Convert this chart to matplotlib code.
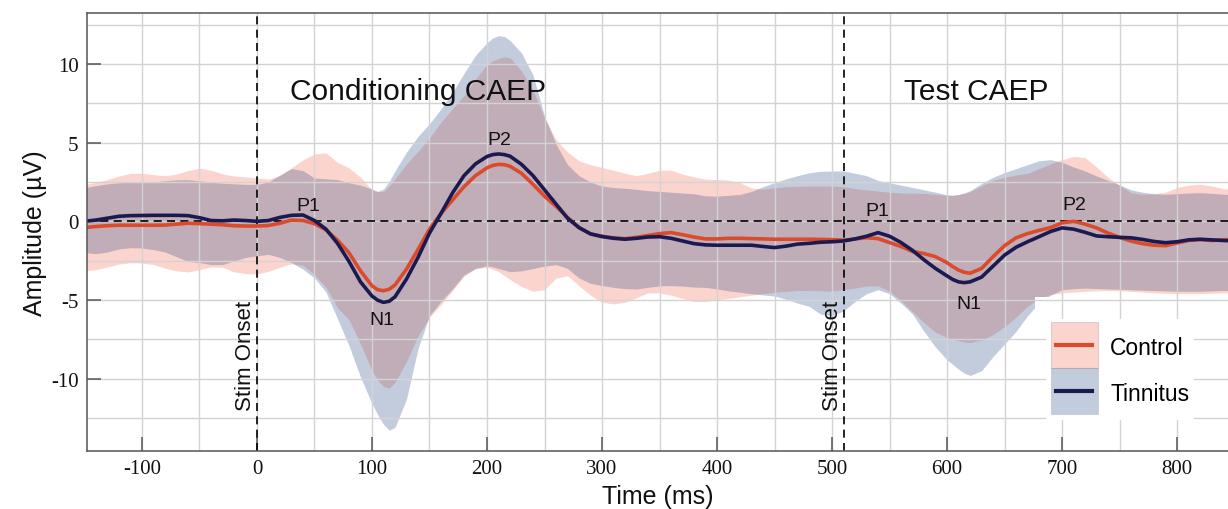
import matplotlib
matplotlib.use("Agg")
import matplotlib.pyplot as plt
from matplotlib.patches import Rectangle
from matplotlib.lines import Line2D
from matplotlib.ticker import MultipleLocator

plt.rcParams['font.family'] = ['Liberation Sans', 'DejaVu Sans']
plt.rcParams['axes.unicode_minus'] = False

# ---------------- data (time in ms, amplitude in microvolts) ----------------
times = [-150, -140, -130, -120, -110, -100, -90, -80, -70, -60,
         -50, -40, -30, -20, -10, 0, 10, 20, 30, 40,
         50, 60, 70, 80, 90, 100, 105, 110, 115, 120, 130, 140,
         150, 160, 170, 180, 190, 200, 205, 210, 215, 220, 230, 240,
         250, 260, 270, 280, 290, 300, 310, 320, 330, 340,
         350, 360, 370, 380, 390, 400, 410, 420, 430, 440,
         450, 460, 470, 480, 490, 500, 510, 520, 530, 540,
         550, 560, 570, 580, 590, 600, 605, 610, 615, 620, 630, 640,
         650, 660, 670, 680, 690, 700, 710, 720, 730, 740,
         750, 760, 770, 780, 790, 800, 810, 820, 830, 840, 850]

control_mean = [-0.40, -0.33, -0.28, -0.25, -0.25, -0.25, -0.25, -0.24, -0.18, -0.12,
                -0.15, -0.18, -0.22, -0.28, -0.30, -0.30, -0.27, -0.12, 0.08, 0.05,
                -0.15, -0.55, -1.20, -2.00, -3.15, -4.10, -4.35, -4.41, -4.32, -4.05, -3.04, -1.80,
                -0.50, 0.50, 1.35, 2.20, 2.90, 3.40, 3.55, 3.62, 3.60, 3.50, 3.05, 2.35,
                1.60, 0.95, 0.25, -0.40, -0.80, -0.95, -1.05, -1.10, -1.02, -0.90,
                -0.78, -0.72, -0.85, -1.00, -1.12, -1.12, -1.08, -1.08, -1.10, -1.12,
                -1.14, -1.14, -1.14, -1.14, -1.15, -1.17, -1.20, -1.12, -1.04, -1.10,
                -1.35, -1.60, -1.92, -2.05, -2.25, -2.63, -2.88, -3.10, -3.24, -3.30, -3.00, -2.25,
                -1.55, -1.05, -0.78, -0.58, -0.40, -0.10, 0.00, -0.18, -0.42, -0.75,
                -1.02, -1.26, -1.42, -1.52, -1.55, -1.38, -1.22, -1.16, -1.22, -1.18, -1.15]

tinnitus_mean = [0.00, 0.08, 0.20, 0.32, 0.36, 0.37, 0.38, 0.38, 0.38, 0.36,
                 0.23, 0.05, 0.03, 0.08, 0.05, 0.00, 0.05, 0.25, 0.38, 0.40,
                 0.05, -0.50, -1.40, -2.55, -3.85, -4.75, -5.02, -5.15, -5.08, -4.80, -3.67, -2.30,
                 -0.75, 0.50, 1.80, 2.90, 3.65, 4.12, 4.24, 4.28, 4.24, 4.14, 3.62, 2.90,
                 2.00, 1.10, 0.20, -0.40, -0.80, -0.97, -1.08, -1.14, -1.08, -1.00,
                 -0.98, -1.08, -1.25, -1.42, -1.50, -1.52, -1.52, -1.52, -1.52, -1.60,
                 -1.67, -1.58, -1.45, -1.40, -1.33, -1.30, -1.25, -1.12, -0.95, -0.72,
                 -0.95, -1.35, -1.85, -2.45, -3.00, -3.47, -3.70, -3.85, -3.90, -3.85, -3.55, -2.85,
                 -2.15, -1.65, -1.30, -0.98, -0.65, -0.42, -0.50, -0.70, -0.93, -0.98,
                 -1.02, -1.05, -1.15, -1.28, -1.36, -1.30, -1.18, -1.14, -1.18, -1.22, -1.25]

control_upper = [2.34, 2.48, 2.65, 2.88, 3.05, 3.05, 2.97, 2.90, 3.00, 3.22,
                 3.38, 3.25, 3.02, 2.88, 2.82, 2.76, 2.68, 2.90, 3.40, 3.90,
                 4.28, 4.35, 3.75, 3.40, 2.80, 2.00, 1.88, 1.90, 2.25, 2.70, 3.65, 4.45,
                 5.30, 6.30, 7.15, 8.00, 9.05, 9.95, 10.20, 10.35, 10.45, 10.40, 9.55, 8.35,
                 6.55, 5.20, 4.40, 3.85, 3.60, 3.42, 3.25, 3.05, 2.90, 3.05,
                 3.25, 3.25, 3.00, 2.82, 2.68, 2.66, 2.62, 2.45, 2.12, 2.05,
                 2.13, 2.20, 2.22, 2.24, 2.24, 2.24, 2.20, 2.08, 2.00, 1.92,
                 1.85, 1.80, 1.79, 1.78, 1.72, 1.65, 1.65, 1.70, 1.78, 1.88, 2.25, 2.60,
                 2.80, 2.95, 3.05, 3.35, 3.65, 3.92, 4.12, 4.05, 3.45, 2.80,
                 2.30, 1.82, 1.72, 1.75, 1.85, 2.15, 2.30, 2.35, 2.25, 2.08, 2.03]

control_lower = [-3.14, -3.08, -2.90, -2.72, -2.64, -2.65, -2.75, -2.98, -3.15, -3.22,
                 -3.08, -2.90, -2.92, -3.22, -3.32, -3.35, -3.18, -2.92, -2.70, -2.80,
                 -3.40, -4.20, -5.50, -6.25, -7.80, -9.50, -10.10, -10.50, -10.60, -10.25, -8.90, -7.30,
                 -6.10, -5.30, -4.40, -3.50, -3.00, -2.93, -3.05, -3.20, -3.45, -3.70, -4.15, -4.45,
                 -4.35, -3.62, -3.46, -4.10, -4.70, -5.15, -5.25, -5.15, -4.85, -4.55,
                 -4.55, -4.70, -4.90, -5.10, -5.10, -4.98, -4.90, -4.80, -4.70, -4.60,
                 -4.51, -4.45, -4.40, -4.40, -4.42, -4.43, -4.35, -4.25, -4.11, -4.11,
                 -4.45, -5.05, -5.75, -6.45, -7.05, -7.39, -7.50, -7.60, -7.68, -7.71, -7.55, -7.20,
                 -6.70, -6.10, -5.40, -4.90, -4.65, -4.55, -4.50, -4.45, -4.42, -4.40,
                 -4.42, -4.45, -4.50, -4.55, -4.58, -4.60, -4.60, -4.60, -4.57, -4.55, -4.55]

tinnitus_upper = [2.13, 2.27, 2.38, 2.45, 2.47, 2.48, 2.50, 2.58, 2.64, 2.65,
                  2.58, 2.48, 2.42, 2.38, 2.35, 2.34, 2.50, 2.95, 3.35, 3.22,
                  2.75, 2.70, 2.65, 2.45, 2.30, 2.05, 1.90, 2.05, 2.55, 3.20, 4.40, 5.40,
                  6.20, 7.15, 8.20, 9.40, 10.55, 11.35, 11.65, 11.80, 11.75, 11.50, 10.70, 9.30,
                  6.70, 4.90, 3.60, 2.90, 2.50, 2.24, 2.15, 2.10, 2.03, 1.95,
                  1.90, 1.85, 1.80, 1.75, 1.62, 1.60, 1.65, 1.71, 1.90, 2.20,
                  2.45, 2.70, 2.90, 3.08, 3.18, 3.20, 3.20, 3.05, 2.90, 2.60,
                  2.45, 2.30, 2.15, 2.00, 1.85, 1.68, 1.66, 1.70, 1.80, 1.95, 2.40, 2.80,
                  3.10, 3.35, 3.60, 3.85, 3.92, 3.75, 3.45, 3.20, 2.88, 2.60,
                  2.32, 2.00, 1.85, 1.75, 1.72, 1.75, 1.80, 1.82, 1.78, 1.72, 1.70]

tinnitus_lower = [-1.98, -2.06, -1.95, -1.76, -1.68, -1.70, -1.80, -1.95, -2.25, -2.55,
                  -2.62, -2.75, -2.75, -2.52, -2.30, -2.19, -2.10, -2.30, -2.62, -3.05,
                  -3.60, -4.50, -6.20, -7.90, -9.90, -11.60, -12.30, -12.90, -13.28, -13.10, -11.30, -8.10,
                  -6.00, -5.10, -4.30, -3.40, -3.00, -2.83, -2.90, -3.00, -3.10, -3.20, -3.15, -3.00,
                  -2.85, -2.75, -3.00, -3.60, -3.95, -4.08, -4.20, -4.28, -4.30, -4.20,
                  -4.10, -4.09, -4.12, -4.18, -4.20, -4.30, -4.42, -4.51, -4.60, -4.68,
                  -4.75, -4.95, -5.20, -5.40, -5.90, -6.00, -5.70, -5.10, -4.60, -4.35,
                  -4.60, -5.20, -5.90, -7.00, -8.00, -8.80, -9.10, -9.40, -9.65, -9.80, -9.50, -8.60,
                  -7.80, -7.00, -6.00, -5.20, -4.70, -4.35, -4.28, -4.25, -4.27, -4.30,
                  -4.32, -4.35, -4.38, -4.40, -4.42, -4.45, -4.45, -4.45, -4.42, -4.40, -4.40]

stim_onsets = [0, 510]
group_names = ['Control', 'Tinnitus']
section_titles = ['Conditioning CAEP', 'Test CAEP']
peak_names = ['P1', 'N1', 'P2', 'P1', 'N1', 'P2']

# ---------------- styles / layout ----------------
CTRL_LINE = '#dc4a2c'
TINN_LINE = '#1b1a50'
CTRL_FILL = '#f5765c'
TINN_FILL = '#13377b'
CTRL_ALPHA = 0.30
TINN_ALPHA = 0.25
TXT = '#111111'
SPINE = '#555555'

section_pos = [(140, 7.77), (625.6, 7.77)]
peak_pos = [(44.6, 0.75), (109, -6.54), (210.6, 4.91),
            (539.5, 0.39), (619, -5.48), (710.5, 0.78)]
stim_text_offset = -10.0
stim_text_y = -8.5

W, H = 1228, 510
fig = plt.figure(figsize=(W / 100, H / 100), dpi=100)
ax = fig.add_axes([87 / W, (H - 452) / H, (W - 87) / W, 438 / H])
ax.set_xlim(-147.8, 844.3)
ax.set_ylim(-14.6, 13.24)

ax.fill_between(times, control_lower, control_upper, color=CTRL_FILL,
                alpha=CTRL_ALPHA, lw=0, zorder=1)
ax.fill_between(times, tinnitus_lower, tinnitus_upper, color=TINN_FILL,
                alpha=TINN_ALPHA, lw=0, zorder=1.05)

# white area behind the legend (hides the bands there)
ax.add_patch(Rectangle((676.5, -20), 400, 20 - 4.82, facecolor='white',
                       edgecolor='none', zorder=1.2))

ax.set_axisbelow('line')
ax.xaxis.set_major_locator(MultipleLocator(100))
ax.xaxis.set_minor_locator(MultipleLocator(50))
ax.yaxis.set_major_locator(MultipleLocator(5))
ax.yaxis.set_minor_locator(MultipleLocator(2.5))
ax.grid(True, which='both', color='#d3d3d3', lw=1.0)

dash = (0, (4.8, 3.2))
ax.axhline(0, color='black', lw=1.2, ls=dash, zorder=1.8)
for s in stim_onsets:
    ax.axvline(s, color='black', lw=1.2, ls=dash, zorder=1.8)

ax.plot(times, control_mean, color=CTRL_LINE, lw=2.6, zorder=2.2,
        solid_capstyle='round', solid_joinstyle='round')
ax.plot(times, tinnitus_mean, color=TINN_LINE, lw=2.6, zorder=2.3,
        solid_capstyle='round', solid_joinstyle='round')

# texts
for title, (x, y) in zip(section_titles, section_pos):
    ax.text(x, y, title, ha='center', va='baseline', fontsize=21.5,
            color=TXT, zorder=4)
for name, (x, y) in zip(peak_names, peak_pos):
    ax.text(x, y, name, ha='center', va='baseline', fontsize=14,
            color=TXT, zorder=4)
for s in stim_onsets:
    ax.text(s + stim_text_offset, stim_text_y, 'Stim Onset', rotation=90,
            ha='center', va='center', fontsize=16, color=TXT, zorder=4)

# axes styling
ax.tick_params(which='major', direction='in', length=10, width=1.1,
               color=SPINE, top=False, right=False, labelsize=15, pad=6,
               labelcolor=TXT, labelfontfamily='Liberation Serif')
ax.tick_params(which='minor', length=0, top=False, right=False)
for side in ['left', 'bottom', 'top']:
    ax.spines[side].set_color(SPINE)
    ax.spines[side].set_linewidth(1.1)
ax.spines['right'].set_visible(False)

ax.set_xlabel('Time (ms)', fontsize=18, color=TXT, labelpad=4)
ax.set_ylabel('Amplitude (\u00b5V)', fontsize=18, color=TXT, labelpad=3)


# legend with band patch + line
class BandLine:
    def __init__(self, fc, alpha, lc):
        self.fc, self.alpha, self.lc = fc, alpha, lc


class BandLineHandler:
    def legend_artist(self, legend, orig_handle, fontsize, handlebox):
        w, h = handlebox.width, handlebox.height
        x0 = -handlebox.xdescent
        # centre the patch on the label text (cap-height centre)
        yc = 0.36 * fontsize
        y0 = yc - h / 2
        rect = Rectangle((x0, y0), w, h, facecolor=orig_handle.fc,
                         alpha=orig_handle.alpha, edgecolor='#8a8a8a', lw=0.8,
                         transform=handlebox.get_transform())
        line = Line2D([x0 + 0.12 * w, x0 + 0.88 * w], [yc, yc],
                      color=orig_handle.lc, lw=3.0,
                      transform=handlebox.get_transform())
        handlebox.add_artist(rect)
        handlebox.add_artist(line)
        return rect


handles = [BandLine(CTRL_FILL, CTRL_ALPHA, CTRL_LINE),
           BandLine(TINN_FILL, TINN_ALPHA, TINN_LINE)]
leg = ax.legend(handles, group_names, handler_map={BandLine: BandLineHandler()},
                loc='upper left', bbox_to_anchor=(0.8405, 0.301),
                borderaxespad=0, borderpad=0.2, handlelength=2.05,
                handleheight=2.71, labelspacing=0, handletextpad=0.55,
                fontsize=16.5, frameon=True, fancybox=False, framealpha=1,
                edgecolor='none', facecolor='white')
leg.set_zorder(5)

fig.savefig('out.png', dpi=100)
